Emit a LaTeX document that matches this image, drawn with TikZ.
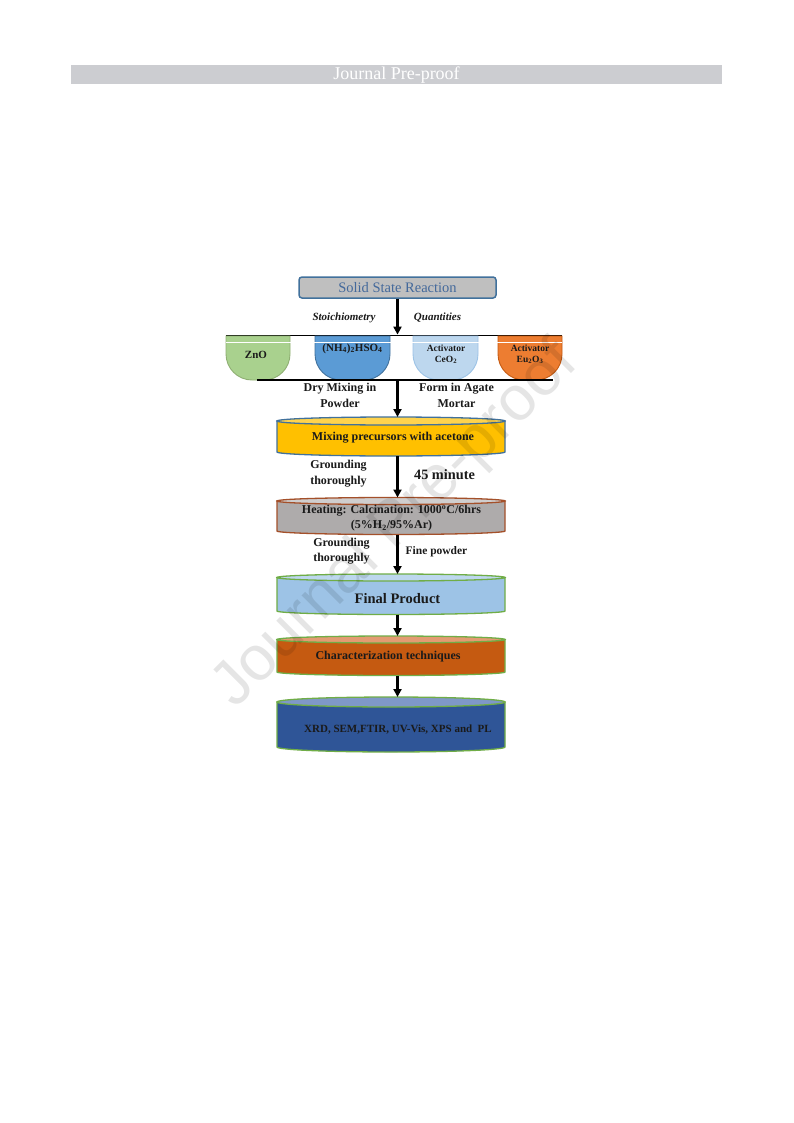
\documentclass[tikz,border=0pt]{standalone}
\usepackage{fontspec}
\setmainfont{Liberation Serif}
\newfontfamily\wmfont{Liberation Sans}
\usetikzlibrary{arrows.meta,calc}
\definecolor{hdrgray}{HTML}{CCCDD1}
\definecolor{boxgray}{HTML}{BFBFBF}
\definecolor{bdblue}{HTML}{41719C}
\definecolor{ssrtext}{HTML}{44699B}
\definecolor{zngreen}{HTML}{A9D18E}
\definecolor{znborder}{HTML}{8FAF73}
\definecolor{nhblue}{HTML}{5B9BD5}
\definecolor{ceblue}{HTML}{BDD7EE}
\definecolor{ceborder}{HTML}{9DC3E6}
\definecolor{euorange}{HTML}{ED7D31}
\definecolor{euborder}{HTML}{C55A11}
\definecolor{baseline}{HTML}{4A6690}
\definecolor{mixbody}{HTML}{FFC000}
\definecolor{mixtop}{HTML}{FFD34D}
\definecolor{heatbody}{HTML}{AEABAB}
\definecolor{heattop}{HTML}{D0CECE}
\definecolor{heatborder}{HTML}{A4502A}
\definecolor{finbody}{HTML}{9DC3E6}
\definecolor{fintop}{HTML}{BDD7EE}
\definecolor{grborder}{HTML}{70AD47}
\definecolor{charbody}{HTML}{C55A11}
\definecolor{chartop}{HTML}{E39B72}
\definecolor{xrdbody}{HTML}{2F5597}
\definecolor{xrdtop}{HTML}{7F98C8}
\definecolor{txt}{HTML}{1A1A1A}
\newcommand{\mydrum}[9]{%
  \filldraw[fill=#7, draw=#9, line width=1.3pt] (#2,#4) -- (#2,#5)
    arc[start angle=180, end angle=360, x radius={(#3-#2)/2*1pt}, y radius=#6pt] -- (#3,#4) -- cycle;
  \filldraw[fill=#8, draw=#9, line width=1.3pt] ({(#2+#3)/2},#4) ellipse[x radius={(#3-#2)/2*1pt}, y radius=#6pt];
  \node[inner sep=0pt, outer sep=0pt, minimum width={(#3-#2)*1pt}, minimum height={(#5-#4+2*#6)*1pt}] (#1) at ({(#2+#3)/2},{(#4+#5)/2}) {};
}
\newcommand{\mybowl}[5]{%
  \filldraw[fill=#4, draw=#5, line width=0.9pt] (#2,336) -- (#2,354)
    arc[start angle=180, end angle=270, radius=26pt] -- ({#3-26},380)
    arc[start angle=270, end angle=360, radius=26pt] -- (#3,336) -- cycle;
  \node[inner sep=0pt, outer sep=0pt, minimum width={(#3-#2)*1pt}, minimum height=44pt] (#1) at ({(#2+#3)/2},358) {};
}
\tikzset{
  lbl/.style={text=txt, font=\bfseries\fontsize{12}{15.5}\selectfont, align=center, inner sep=0pt},
  arr/.style={draw=black, line width=2.3pt, -{Triangle[length=8pt,width=8pt]}},
}
\begin{document}
\begin{tikzpicture}[x=1pt,y=-1pt]
\useasboundingbox (0,0) rectangle (793,1123);
\fill[white] (0,0) rectangle (793,1123);
% header
\node[fill=hdrgray, minimum width=651pt, minimum height=19pt, inner sep=0pt, text=white, font=\fontsize{18}{18}\selectfont] (hdr) at (396.5,75) {Journal Pre-proof};
% solid state reaction
\node[draw=bdblue, fill=boxgray, line width=1.5pt, rounded corners=3pt, minimum width=197pt, minimum height=21pt, inner sep=0pt, text=ssrtext, font=\fontsize{14.5}{15}\selectfont] (ssr) at (397.5,287.5) {Solid State Reaction};
\node[lbl, font=\bfseries\itshape\fontsize{11}{13}\selectfont] (stoi) at (344,318) {Stoichiometry};
\node[lbl, font=\bfseries\itshape\fontsize{11}{13}\selectfont] (quant) at (437.5,318) {Quantities};
% top line
\draw[black, line width=1.4pt] (226,335.3) -- (562,335.3);
\coordinate (tl) at (397.5,334.6);
% bowls
\mybowl{zno}{226}{290}{zngreen}{znborder}
\mybowl{nh}{315}{390}{nhblue}{bdblue}
\mybowl{ce}{413}{478}{ceblue}{ceborder}
\mybowl{eu}{498}{562}{euorange}{euborder}
\draw[white, line width=1.2pt] (226,342.5) -- (562,342.5);
\draw[baseline, line width=1.6pt] (257,380) -- (553,380);
\coordinate (bl) at (397.5,380.8);
\node[lbl, font=\bfseries\fontsize{11}{13}\selectfont] (znot) at (256,355) {ZnO};
\node[lbl, font=\bfseries\fontsize{11}{13}\selectfont] (nht) at (352.5,348.5) {(NH\textsubscript{4})\textsubscript{2}HSO\textsubscript{4}};
\node[lbl, font=\bfseries\fontsize{9.5}{11}\selectfont] (cet) at (446,354) {Activator\\CeO\textsubscript{2}};
\node[lbl, font=\bfseries\fontsize{9.5}{11}\selectfont] (eut) at (530,354) {Activator\\Eu\textsubscript{2}O\textsubscript{3}};
\node[lbl] (dry) at (340,395.5) {Dry Mixing in\\Powder};
\node[lbl] (agate) at (456.5,395.5) {Form in Agate\\Mortar};
% drums
\mydrum{mix}{277}{505}{421}{452}{4}{mixbody}{mixtop}{bdblue}
\node[lbl] (mixt) at (393,438) {Mixing precursors with acetone};
\mydrum{heat}{277}{505}{501}{531}{3.5}{heatbody}{heattop}{heatborder}
\node[lbl, font=\bfseries\fontsize{12}{15}\selectfont] (heatt) at (391.5,518) {Heating: Calcination: 1000\textsuperscript{o}C/6hrs\\(5\%H\textsubscript{2}/95\%Ar)};
\mydrum{fin}{277}{505}{577.5}{611}{3.5}{finbody}{fintop}{grborder}
\node[lbl, font=\bfseries\fontsize{14.5}{16}\selectfont] (fint) at (397.5,598.5) {Final Product};
\mydrum{char}{277}{505}{639.5}{672}{3.5}{charbody}{chartop}{grborder}
\node[lbl] (chart) at (388,657) {Characterization techniques};
\mydrum{xrd}{277}{505}{702}{747}{5}{xrdbody}{xrdtop}{grborder}
\node[lbl, font=\bfseries\fontsize{11}{13}\selectfont] (xrdt) at (398,729.5) {XRD, SEM,FTIR, UV-Vis, XPS and \ PL};
% side labels
\node[lbl] (gr1) at (338.5,473.5) {Grounding\\thoroughly};
\node[lbl, font=\bfseries\fontsize{14.3}{16}\selectfont] (min) at (444.5,474.5) {45 minute};
\node[lbl] (gr2) at (341.5,551) {Grounding\\thoroughly};
\node[lbl, font=\bfseries\fontsize{11.5}{13}\selectfont] (fine) at (436.5,552) {Fine powder};
% arrows
\draw[arr] (ssr.south) -- (tl);
\draw[arr] (bl) -- (bl |- mix.north);
\draw[arr] (ssr.south |- mix.south) -- (ssr.south |- heat.north);
\draw[arr] (ssr.south |- heat.south) -- (ssr.south |- fin.north);
\draw[arr] (ssr.south |- fin.south) -- (ssr.south |- char.north);
\draw[arr] (ssr.south |- char.south) -- (ssr.south |- xrd.north);
% watermark
\node[rotate=45, text=black, opacity=0.1, inner sep=0pt, font=\wmfont\fontsize{63}{63}\selectfont] (wm) at (396,526) {Journal Pre-proof};
\end{tikzpicture}
\end{document}
